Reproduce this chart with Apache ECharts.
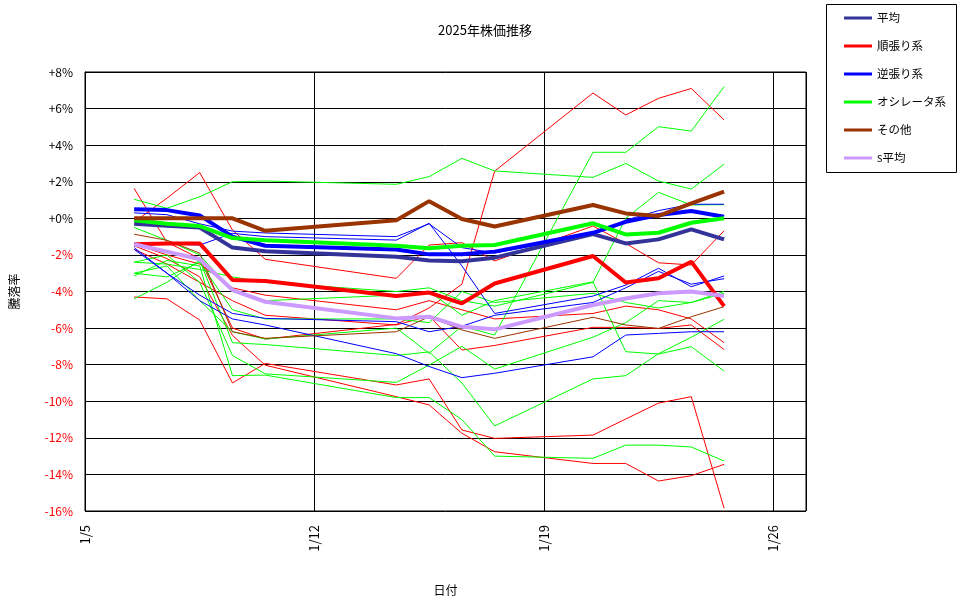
<!DOCTYPE html>
<html>
<head>
<meta charset="utf-8">
<script src="https://cdn.jsdelivr.net/npm/echarts@6/dist/echarts.min.js"></script>
<style>
  html, body { margin: 0; padding: 0; background: #fff; }
  #chart { width: 970px; height: 604px; }
</style>
</head>
<body>
<div id="chart"></div>
<script>
// trading days (January 2025)
var dates = ['1/6','1/7','1/8','1/9','1/10','1/14','1/15','1/16','1/17','1/20','1/21','1/22','1/23','1/24'];

// aggregate series (%)
var avgAll    = [-0.3, -0.4, -0.5, -1.6, -1.8, -2.1, -2.3, -2.35, -2.15, -0.86, -1.37, -1.15, -0.6, -1.15];
var trendAvg  = [-1.42, -1.37, -1.37, -3.37, -3.43, -4.25, -4.06, -4.65, -3.56, -2.06, -3.51, -3.28, -2.37, -4.8];
var contraAvg = [0.49, 0.45, 0.16, -1.0, -1.5, -1.7, -1.97, -1.97, -1.82, -0.79, -0.19, 0.18, 0.4, 0.09];
var oscAvg    = [-0.1, -0.3, -0.42, -1.08, -1.2, -1.5, -1.64, -1.5, -1.46, -0.27, -0.88, -0.79, -0.24, 0.0];
var otherAvg  = [0.0, 0.0, 0.0, 0.0, -0.68, -0.1, 0.94, -0.04, -0.45, 0.73, 0.27, 0.13, 0.82, 1.46];
var sAvg      = [-1.42, -1.82, -2.24, -3.92, -4.56, -5.47, -5.38, -5.93, -6.07, -4.74, -4.38, -4.1, -4.0, -4.25];

// individual issues (%)
var redLines = [
  [1.63, -1.3, -2.2, -6.0, -6.6, -5.8, -4.9, -3.6, 2.58, 6.85, 5.65, 6.56, 7.1, 5.38],
  [-0.2, 1.1, 2.5, -0.64, -2.24, -3.28, -1.46, -1.33, -2.33, -0.42, -1.37, -2.43, -2.55, -0.68],
  [-4.3, -4.4, -5.56, -9.0, -7.93, -9.11, -8.78, -11.57, -12.03, -11.85, -10.97, -10.1, -9.75, -15.85],
  [-1.5, -2.2, -3.2, -6.4, -8.03, -9.75, -10.2, -11.75, -12.76, -13.4, -13.4, -14.36, -14.07, -13.45],
  [-1.7, -2.5, -3.5, -4.5, -5.3, -5.83, -5.34, -7.2, -6.95, -5.96, -5.96, -6.02, -5.83, -7.17],
  [-1.4, -2.0, -2.5, -3.8, -4.2, -5.0, -4.5, -5.0, -5.5, -5.2, -4.8, -5.0, -5.5, -6.8]
];
var greenLines = [
  [1.04, 0.55, 1.18, 2.0, 2.04, 1.86, 2.28, 3.28, 2.59, 2.24, 3.0, 2.04, 1.6, 2.96],
  [-3.0, -2.6, -4.5, -6.2, -6.6, -6.0, -7.38, -5.9, -6.38, 3.61, 3.61, 5.01, 4.77, 7.2],
  [-2.4, -2.0, -3.5, -7.5, -8.5, -8.97, -8.02, -7.0, -8.24, -6.5, -5.7, -4.5, -4.6, -4.0],
  [-4.4, -3.5, -2.3, -6.8, -6.9, -7.5, -7.3, -9.0, -11.35, -8.78, -8.6, -7.4, -6.5, -5.52],
  [-3.15, -2.3, -2.6, -8.6, -8.57, -9.8, -9.8, -11.0, -13.0, -13.12, -12.4, -12.4, -12.5, -13.27],
  [-2.4, -2.5, -2.8, -3.2, -3.5, -4.0, -3.8, -4.5, -4.8, -3.5, 0.0, 1.42, 0.73, 0.75],
  [-0.5, -1.2, -2.0, -4.0, -4.5, -4.2, -4.0, -5.3, -4.5, -3.47, -7.29, -7.42, -7.02, -8.35],
  [-3.0, -3.2, -2.4, -5.0, -5.5, -5.5, -5.7, -4.0, -4.6, -4.1, -4.6, -4.9, -4.6, -4.1]
];
var blueLines = [
  [-1.5, -1.4, -1.46, -0.82, -1.0, -1.19, -0.27, -2.6, -5.2, -4.25, -3.65, -2.73, -3.74, -3.15],
  [-1.6, -3.0, -4.5, -5.5, -5.83, -7.4, -8.1, -8.71, -8.47, -7.57, -6.38, -6.29, -6.2, -6.2],
  [0.3, 0.2, -0.3, -0.7, -0.8, -1.0, -0.3, -1.6, -1.9, -0.9, -0.1, 0.42, 0.77, 0.77],
  [-1.7, -3.0, -4.2, -5.2, -5.47, -5.65, -6.2, -5.9, -5.3, -4.6, -3.8, -2.9, -3.6, -3.3]
];
var brownLines = [
  [-0.87, -1.2, -1.9, -6.2, -6.56, -6.2, -5.38, -6.1, -6.56, -5.41, -5.83, -6.02, -5.38, -4.83]
];

var legendNames = ['平均', '順張り系', '逆張り系', 'オシレータ系', 'その他', 's平均'];
var yMin = -16, yMax = 8, yStep = 2;

// days counted from 1/5, points sit in the middle of their day
function toPoints(vals) {
  return vals.map(function (v, i) {
    var day = parseInt(dates[i].split('/')[1], 10);
    return [day - 5 + 0.5, v];
  });
}

var series = [];
function addThin(list, color) {
  list.forEach(function (vals) {
    series.push({
      type: 'line', data: toPoints(vals), symbol: 'none', silent: true,
      lineStyle: { color: color, width: 1 }, z: 2
    });
  });
}
addThin(redLines, '#ff0000');
addThin(greenLines, '#00ff00');
addThin(blueLines, '#0000ff');
addThin(brownLines, '#993300');

var thick = [
  [legendNames[0], avgAll, '#333399'],
  [legendNames[1], trendAvg, '#ff0000'],
  [legendNames[2], contraAvg, '#0000ff'],
  [legendNames[3], oscAvg, '#00ff00'],
  [legendNames[4], otherAvg, '#993300'],
  [legendNames[5], sAvg, '#cc99ff']
];
thick.forEach(function (t) {
  series.push({
    name: t[0], type: 'line', data: toPoints(t[1]), symbol: 'none',
    lineStyle: { color: t[2], width: 4 }, itemStyle: { color: t[2] }, z: 3
  });
});

var font = '"Noto Sans CJK JP", sans-serif';
var myChart = echarts.init(document.getElementById('chart'));
myChart.setOption({
  animation: false,
  backgroundColor: '#fff',
  title: {
    text: '2025年株価推移', left: 'center', top: 19,
    textStyle: { fontSize: 13, fontWeight: 'normal', color: '#000', fontFamily: font }
  },
  graphic: [{
    type: 'rect', left: 826, top: 4,
    shape: { width: 130, height: 168 },
    style: { fill: '#fff', stroke: '#000', lineWidth: 1 }, z: 0
  }],
  legend: {
    data: legendNames, orient: 'vertical', left: 844, top: 11, padding: 0,
    icon: 'rect', itemWidth: 28, itemHeight: 3, itemGap: 14,
    textStyle: { fontSize: 11.5, color: '#000', fontFamily: font, lineHeight: 14 },
    z: 5
  },
  grid: {
    left: 84, top: 72, right: 164, bottom: 93,
    show: true, borderColor: '#000', borderWidth: 1, backgroundColor: '#fff'
  },
  xAxis: {
    type: 'value', min: 0, max: 22, interval: 7,
    name: '日付', nameLocation: 'middle', nameGap: 73,
    nameTextStyle: { fontSize: 12, color: '#000', fontFamily: font },
    axisLine: { show: true, lineStyle: { color: '#000' } },
    axisTick: { show: false },
    axisLabel: {
      rotate: 90, fontSize: 13, color: '#000', margin: 14, fontFamily: font,
      formatter: function (v) { return v > 21 ? '' : '1/' + (v + 5); }
    },
    splitLine: { show: true, lineStyle: { color: '#000', width: 1 } }
  },
  yAxis: {
    type: 'value', min: yMin, max: yMax, interval: yStep,
    name: '騰落率', nameLocation: 'middle', nameGap: 65, nameRotate: 90,
    nameTextStyle: { fontSize: 12, color: '#000', fontFamily: font },
    axisLine: { show: true, lineStyle: { color: '#000' } },
    axisTick: { show: false },
    axisLabel: {
      fontSize: 12, margin: 12, fontFamily: font,
      color: function (v) { return Number(v) < 0 ? '#ff0000' : '#000'; },
      formatter: function (v) { return (v >= 0 ? '+' : '') + v + '%'; }
    },
    splitLine: { show: true, lineStyle: { color: '#000', width: 1 } }
  },
  series: series
});
</script>
</body>
</html>
